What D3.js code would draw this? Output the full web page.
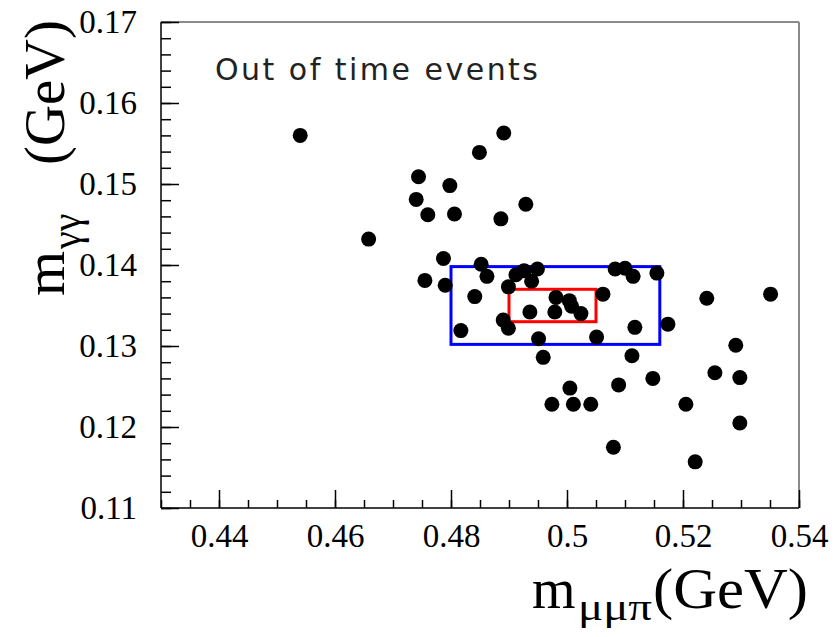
<!DOCTYPE html>
<html>
<head>
<meta charset="utf-8">
<script src="https://cdn.jsdelivr.net/npm/d3@7"></script>
<style>
  body { margin: 0; background: #fff; }
  svg text { font-family: 'Liberation Serif', 'DejaVu Serif', serif; }
</style>
</head>
<body>
<div id="vis"></div>
<script>
// m(mu mu pi) of each out-of-time event, GeV
const mMuMuPi = [
  0.4540, 0.4744, 0.4740, 0.4760, 0.4658, 0.4798, 0.4806, 0.4787, 0.4755, 0.4790,
  0.4891, 0.4849, 0.4886, 0.4929, 0.4852, 0.4862, 0.4841, 0.4817, 0.4912, 0.4926,
  0.4949, 0.4939, 0.4899, 0.5083, 0.5100, 0.5114, 0.5155, 0.5062, 0.4981, 0.5004,
  0.5008, 0.5024, 0.4979, 0.4936, 0.4890, 0.4899, 0.4951, 0.5051, 0.5117, 0.5174,
  0.5241, 0.5351, 0.5291, 0.4959, 0.5112, 0.5255, 0.5298, 0.5148, 0.5089, 0.5005,
  0.4974, 0.5011, 0.5041, 0.5205, 0.5298, 0.5080, 0.5221
]
// m(gamma gamma) of the same events, GeV
const mGammaGamma = [
  0.1560, 0.1509, 0.1481, 0.1462, 0.1432, 0.1498, 0.1463, 0.1408, 0.1381, 0.1375,
  0.1563, 0.1539, 0.1457, 0.1475, 0.1401, 0.1386, 0.1361, 0.1319, 0.1388, 0.1393,
  0.1395, 0.1380, 0.1373, 0.1395, 0.1396, 0.1386, 0.1390, 0.1364, 0.1360, 0.1356,
  0.1349, 0.1340, 0.1342, 0.1342, 0.1332, 0.1322, 0.1309, 0.1311, 0.1323, 0.1327,
  0.1359, 0.1364, 0.1301, 0.1286, 0.1288, 0.1267, 0.1261, 0.1260, 0.1252, 0.1248,
  0.1228, 0.1228, 0.1228, 0.1228, 0.1205, 0.1175, 0.1157
]

const xTicks = [0.44, 0.46, 0.48, 0.5, 0.52, 0.54]
const yTicks = [0.11, 0.12, 0.13, 0.14, 0.15, 0.16, 0.17]

// signal windows: [xmin, xmax, ymin, ymax]
const wideWindow = [0.48, 0.516, 0.1302, 0.1398]
const narrowWindow = [0.49, 0.505, 0.133, 0.137]

const W = 835, H = 637

let svg = d3.select('#vis')
  .append('svg')
  .attr('width', W)
  .attr('height', H)

let x = d3.scaleLinear().domain([0.43, 0.54]).range([161, 799])
let y = d3.scaleLinear().domain([0.11, 0.17]).range([508, 22])

// frame, top and right sides are grey
svg.append('line').attr('x1', 161).attr('x2', 799).attr('y1', 22).attr('y2', 22)
  .attr('stroke', '#8a8a8a').attr('stroke-width', 2)
svg.append('line').attr('x1', 799).attr('x2', 799).attr('y1', 22).attr('y2', 508)
  .attr('stroke', '#8a8a8a').attr('stroke-width', 2)

// minor ticks
let xMinor = d3.range(86, 109).map(function (i) { return i * 0.005 })
let yMinor = d3.range(55, 86).map(function (i) { return i * 0.002 })

svg.append('g')
  .attr('transform', 'translate(0,508)')
  .call(d3.axisBottom(x).tickValues(xMinor).tickSize(-8).tickFormat(''))
svg.append('g')
  .attr('transform', 'translate(161,0)')
  .call(d3.axisLeft(y).tickValues(yMinor).tickSize(-10).tickFormat(''))

// major ticks with labels
let xAxis = svg.append('g')
  .attr('transform', 'translate(0,508)')
  .call(d3.axisBottom(x).tickValues(xTicks).tickSize(-18).tickPadding(16)
    .tickFormat(function (d) { return String(+d.toFixed(2)) }))
let yAxis = svg.append('g')
  .attr('transform', 'translate(161,0)')
  .call(d3.axisLeft(y).tickValues(yTicks).tickSize(-18).tickPadding(24)
    .tickFormat(function (d) { return d.toFixed(2) }))

svg.selectAll('.domain').remove()
svg.selectAll('.tick line').attr('stroke', '#000').attr('stroke-width', 1.5)
svg.selectAll('.tick text')
  .attr('fill', '#000')
  .style('font-family', "'Liberation Serif', serif")
  .style('font-size', '33px')

// left and bottom axis lines
svg.append('line').attr('x1', 161).attr('x2', 161).attr('y1', 22).attr('y2', 508)
  .attr('stroke', '#000').attr('stroke-width', 1.5)
svg.append('line').attr('x1', 161).attr('x2', 799).attr('y1', 508).attr('y2', 508)
  .attr('stroke', '#000').attr('stroke-width', 1.5)

// windows
function drawWindow(b, colour) {
  svg.append('rect')
    .attr('x', x(b[0]))
    .attr('y', y(b[3]))
    .attr('width', x(b[1]) - x(b[0]))
    .attr('height', y(b[2]) - y(b[3]))
    .attr('fill', 'none')
    .attr('stroke', colour)
    .attr('stroke-width', 3)
}
drawWindow(wideWindow, '#0000ff')
drawWindow(narrowWindow, '#ff0000')

// events
svg.append('g')
  .selectAll('circle')
  .data(mMuMuPi)
  .enter()
  .append('circle')
  .attr('cx', function (d) { return x(d) })
  .attr('cy', function (d, i) { return y(mGammaGamma[i]) })
  .attr('r', 7.5)
  .attr('fill', '#000')

// caption
svg.append('text')
  .attr('x', 215)
  .attr('y', 80)
  .attr('textLength', 323)
  .attr('lengthAdjust', 'spacing')
  .style('font-family', "'DejaVu Sans', sans-serif")
  .style('font-size', '30px')
  .attr('fill', '#222')
  .text('Out of time events')

// x title
svg.append('text').attr('x', 532).attr('y', 608)
  .style('font-size', '56px').text('m')
svg.append('text').attr('x', 578).attr('y', 620)
  .attr('textLength', 74).attr('lengthAdjust', 'spacingAndGlyphs')
  .style('font-size', '38px').text('μμπ')
svg.append('text').attr('x', 653).attr('y', 608)
  .attr('textLength', 155).attr('lengthAdjust', 'spacingAndGlyphs')
  .style('font-size', '56px').text('(GeV)')

// y title
let yt = svg.append('g').attr('transform', 'translate(64,296)rotate(-90)')
yt.append('text').attr('x', 0).attr('y', 0)
  .style('font-size', '58px').text('m')
yt.append('text').attr('x', 47).attr('y', 16)
  .style('font-size', '40px').text('γγ')
yt.append('text').attr('x', 131).attr('y', 0)
  .attr('textLength', 145).attr('lengthAdjust', 'spacingAndGlyphs')
  .style('font-size', '58px').text('(GeV)')
</script>
</body>
</html>
